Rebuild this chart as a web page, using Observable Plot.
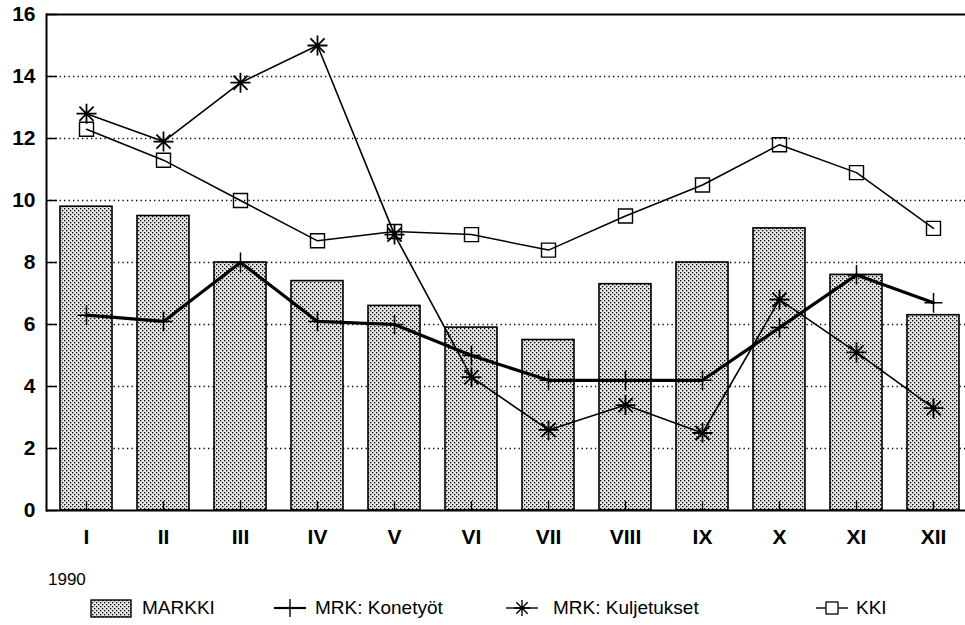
<!DOCTYPE html>
<html><head><meta charset="utf-8">
<script src="https://cdn.jsdelivr.net/npm/d3@7"></script>
<script src="https://cdn.jsdelivr.net/npm/@observablehq/plot@0.6"></script>
<style>
body{margin:0;background:#fff;width:965px;height:625px;overflow:hidden;position:relative;font-family:"Liberation Sans",Arial,sans-serif;}
#chart{position:absolute;left:0;top:0;}
.lt{position:absolute;font-size:19px;color:#000;line-height:20px;white-space:nowrap;}
.ls{position:absolute;}
</style></head><body>
<div id="chart"></div>
<div class="lt" style="left:48px;top:570px;font-size:17px">1990</div>
<div id="legend"></div>
<script>
const months = ["I","II","III","IV","V","VI","VII","VIII","IX","X","XI","XII"];
const markki = [9.8,9.5,8.0,7.4,6.6,5.9,5.5,7.3,8.0,9.1,7.6,6.3];
const konetyot = [6.3,6.1,8.0,6.1,6.0,5.0,4.2,4.2,4.2,5.9,7.6,6.7];
const kuljetukset = [12.8,11.9,13.8,15.0,8.9,4.3,2.6,3.4,2.5,6.8,5.1,3.3];
const kki = [12.3,11.3,10.0,8.7,9.0,8.9,8.4,9.5,10.5,11.8,10.9,9.1];
const yTicks = [0,2,4,6,8,10,12,14,16];
const seriesNames = ["MARKKI","MRK: Konetyöt","MRK: Kuljetukset","KKI"];

const rows = months.map((m,i)=>({m, markki:markki[i], kone:konetyot[i], kulj:kuljetukset[i], kki:kki[i]}));

const plusSym = {draw(ctx,size){const r=Math.sqrt(size/Math.PI);ctx.moveTo(-r,0);ctx.lineTo(r,0);ctx.moveTo(0,-r*1.1);ctx.lineTo(0,r*1.1);}};
const astSym = {draw(ctx,size){const r=Math.sqrt(size/Math.PI);for(let k=0;k<4;k++){const a=k*Math.PI/4;const c=Math.cos(a)*r,s=Math.sin(a)*r;ctx.moveTo(-c,-s);ctx.lineTo(c,s);}}};
const sqSym = {draw(ctx,size){const r=Math.sqrt(size/Math.PI);ctx.rect(-r,-r,2*r,2*r);}};

const chart = Plot.plot({
  width: 965, height: 560,
  marginLeft: 46, marginRight: 0, marginTop: 14, marginBottom: 50,
  style: {fontFamily: '"Liberation Sans",Arial,sans-serif', background: "white", overflow: "visible"},
  x: {domain: months, type: "band", range: [46, 973], paddingInner: 0.33, paddingOuter: 0.165, align: 0.5},
  y: {domain: [0,16], range: [510, 14]},
  marks: [
    Plot.gridY(yTicks.filter(t=>t>0&&t<16), {stroke:"#000", strokeOpacity:1, strokeWidth:1.3, strokeDasharray:"1.3,3.2"}),
    Plot.barY(rows, {x:"m", y:"markki", fill:"url(#stip)", stroke:"#000", strokeWidth:1.6}),
    Plot.axisY({ticks: yTicks, tickSize: 0, tickPadding: 11, fontSize: 21, fontWeight: "bold", label: null}),
    Plot.axisY({ticks: yTicks, tickSize: -11, tickFormat: ()=>"", strokeWidth: 1.5, label: null}),
    Plot.axisX({tickSize: 0, tickPadding: 19, fontSize: 21, fontWeight: "bold", label: null}),
    Plot.axisX({tickSize: -9, tickFormat: ()=>"", strokeWidth: 1.3, label: null}),
    Plot.ruleY([0], {stroke:"#000", strokeWidth:2}),
    Plot.ruleY([16], {stroke:"#000", strokeWidth:2}),
    Plot.frame({anchor:"left", stroke:"#000", strokeWidth:2}),
    Plot.line(rows, {x:"m", y:"kki", stroke:"#000", strokeWidth:1.5}),
    Plot.dot(rows, {x:"m", y:"kki", symbol: sqSym, r: 7, stroke:"#000", fill:"none", strokeWidth:1.4}),
    Plot.line(rows, {x:"m", y:"kulj", stroke:"#000", strokeWidth:1.6}),
    Plot.dot(rows, {x:"m", y:"kulj", symbol: astSym, r: 10, stroke:"#000", fill:"none", strokeWidth:1.8}),
    Plot.line(rows, {x:"m", y:"kone", stroke:"#000", strokeWidth:3.2}),
    Plot.dot(rows, {x:"m", y:"kone", symbol: plusSym, r: 9, stroke:"#000", fill:"none", strokeWidth:1.5})
  ]
});

const defs = d3.select(chart).insert("defs", ":first-child");
function addPattern(sel, id){
  const p = sel.append("pattern").attr("id", id).attr("patternUnits","userSpaceOnUse").attr("width",4).attr("height",4);
  p.append("rect").attr("width",4).attr("height",4).attr("fill","#e6e6e6");
  p.append("rect").attr("x",0).attr("y",0).attr("width",1.3).attr("height",1.3).attr("fill","#000");
  p.append("rect").attr("x",2).attr("y",2).attr("width",1.3).attr("height",1.3).attr("fill","#000");
}
addPattern(defs, "stip");
document.getElementById("chart").appendChild(chart);

// Legend
const leg = document.getElementById("legend");
const legItems = [
  {name: seriesNames[0], kind:"bar", sx:90, tx:142},
  {name: seriesNames[1], kind:"plus", sx:273, tx:315},
  {name: seriesNames[2], kind:"ast", sx:505, tx:553},
  {name: seriesNames[3], kind:"sq", sx:815, tx:856}
];
legItems.forEach(it=>{
  const svg = d3.create("svg").attr("class","ls").attr("width",44).attr("height",24)
    .style("left", it.sx+"px").style("top","596px");
  if (it.kind==="bar"){
    addPattern(svg.append("defs"), "stipL");
    svg.append("rect").attr("x",1).attr("y",4).attr("width",40).attr("height",17).attr("fill","url(#stipL)").attr("stroke","#000").attr("stroke-width",1.4);
  } else {
    svg.append("line").attr("x1",1).attr("x2",33).attr("y1",12).attr("y2",12).attr("stroke","#000").attr("stroke-width", it.kind==="plus"?2.2:1.4);
    const g = svg.append("g").attr("transform","translate(17,12)");
    if (it.kind==="plus"){
      g.append("path").attr("d","M-8,0H8M0,-9V9").attr("stroke","#000").attr("stroke-width",1.4);
    } else if (it.kind==="ast"){
      g.append("path").attr("d","M-8,0H8M0,-8V8M-5.7,-5.7L5.7,5.7M-5.7,5.7L5.7,-5.7").attr("stroke","#000").attr("stroke-width",1.4);
    } else {
      g.append("rect").attr("x",-6).attr("y",-6).attr("width",12).attr("height",12).attr("fill","white").attr("stroke","#000").attr("stroke-width",1.3);
    }
  }
  leg.appendChild(svg.node());
  const t = document.createElement("div");
  t.className = "lt"; t.textContent = it.name;
  t.style.left = it.tx+"px"; t.style.top = "598px";
  leg.appendChild(t);
});
</script>
</body></html>
